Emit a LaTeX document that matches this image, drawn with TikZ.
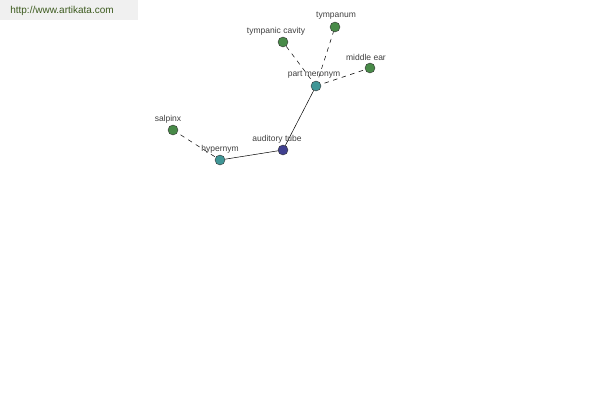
\documentclass[tikz,border=0pt]{standalone}
\usepackage{fontspec}
\setmainfont{Liberation Sans}
\definecolor{ngreen}{RGB}{72,138,72}
\definecolor{nteal}{RGB}{64,150,150}
\definecolor{nblue}{RGB}{64,64,144}
\definecolor{wmtext}{RGB}{60,90,30}
\begin{document}
\begin{tikzpicture}[x=1pt,y=-1pt,
  vtx/.style={circle,draw=black!80,line width=0.4pt,minimum size=10pt,inner sep=0pt},
  green/.style={vtx,fill=ngreen},
  teal/.style={vtx,fill=nteal},
  blue/.style={vtx,fill=nblue},
  lbl/.style={font=\fontsize{8.5}{9}\selectfont,text=black!75,inner sep=0pt},
  solidedge/.style={line width=0.5pt,black},
  dashededge/.style={line width=0.5pt,black,dash pattern=on 4.5pt off 4.5pt}]
\useasboundingbox (0,0) rectangle (600,400);
\fill[white] (0,0) rectangle (600,400);
\fill[black!6] (0,0) rectangle (138,20);
\node[font=\fontsize{10}{11}\selectfont,text=wmtext,inner sep=0pt] (wm) at (62,11) {http://www.artikata.com};
% edges first
\coordinate (sal) at (173,130);
\coordinate (hyp) at (220,160);
\coordinate (aud) at (283,150);
\coordinate (pm) at (316,86);
\coordinate (tc) at (283,42);
\coordinate (tym) at (335,27);
\coordinate (me) at (370,68);
\draw[dashededge] (sal) -- (hyp);
\draw[solidedge] (hyp) -- (aud);
\draw[solidedge] (aud) -- (pm);
\draw[dashededge] (pm) -- (tc);
\draw[dashededge] (pm) -- (tym);
\draw[dashededge] (pm) -- (me);
% labels
\node[lbl] (lsal) at (168,119) {salpinx};
\node[lbl] (lhyp) at (220,149) {hypernym};
\node[lbl] (laud) at (277,139) {auditory tube};
\node[lbl] (lpm) at (314,75) {part meronym};
\node[lbl] (ltc) at (276,31) {tympanic cavity};
\node[lbl] (ltym) at (336,16) {tympanum};
\node[lbl] (lme) at (366,57) {middle ear};
% nodes
\node[green] (nsal) at (sal) {};
\node[teal] (nhyp) at (hyp) {};
\node[blue] (naud) at (aud) {};
\node[teal] (npm) at (pm) {};
\node[green] (ntc) at (tc) {};
\node[green] (ntym) at (tym) {};
\node[green] (nme) at (me) {};
\end{tikzpicture}
\end{document}
